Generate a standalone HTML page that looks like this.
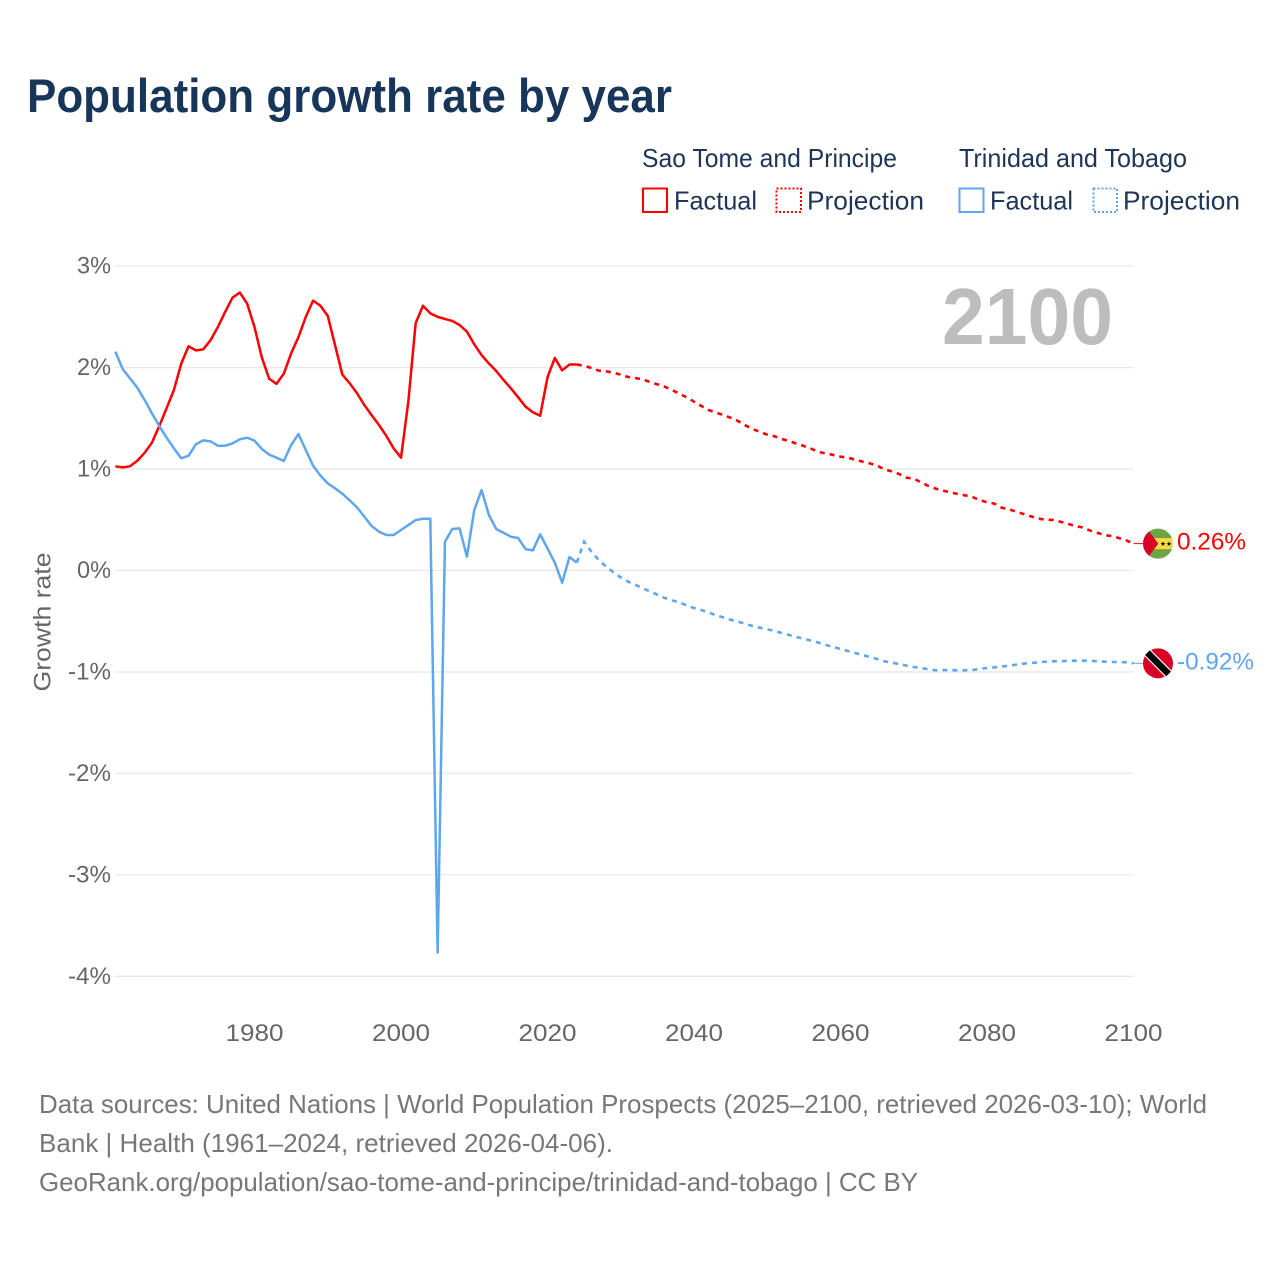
<!DOCTYPE html>
<html lang="en">
<head>
<meta charset="utf-8">
<title>Population growth rate by year</title>
<style>
  html, body { margin: 0; padding: 0; background: #fff; }
  #chart { display: block; width: 1280px; height: 1280px; font-family: "Liberation Sans", sans-serif; }
</style>
</head>
<body>
<svg id="chart" xmlns="http://www.w3.org/2000/svg" width="1280" height="1280" viewBox="0 0 1280 1280">
  <rect x="0" y="0" width="1280" height="1280" fill="#fff"/>
  <text x="27" y="112" font-size="47" font-weight="700" fill="#18365a" textLength="645" lengthAdjust="spacingAndGlyphs">Population growth rate by year</text>

  <g font-size="26" fill="#1d3557">
    <text x="642" y="167" textLength="255" lengthAdjust="spacingAndGlyphs">Sao Tome and Principe</text>
    <text x="959" y="167" textLength="228" lengthAdjust="spacingAndGlyphs">Trinidad and Tobago</text>
    <g>
      <rect x="643" y="188.5" width="24" height="23.5" fill="none" stroke="#ff0000" stroke-width="2"/>
      <text x="674" y="209.5" textLength="83" lengthAdjust="spacingAndGlyphs">Factual</text>
    </g>
    <g>
      <rect x="776.5" y="188.5" width="24.5" height="23.5" fill="none" stroke="#ff0000" stroke-width="2" stroke-dasharray="2 2"/>
      <text x="807" y="209.5" textLength="117" lengthAdjust="spacingAndGlyphs">Projection</text>
    </g>
    <g>
      <rect x="959.5" y="188.5" width="24" height="23.5" fill="none" stroke="#5ea6ee" stroke-width="2"/>
      <text x="990" y="209.5" textLength="83" lengthAdjust="spacingAndGlyphs">Factual</text>
    </g>
    <g>
      <rect x="1093.5" y="188.5" width="23.5" height="23.5" fill="none" stroke="#5ea6ee" stroke-width="2" stroke-dasharray="2 2"/>
      <text x="1123" y="209.5" textLength="117" lengthAdjust="spacingAndGlyphs">Projection</text>
    </g>
  </g>

  <g id="grid"></g>
  <g id="y-ticks"></g>
  <g id="x-ticks"></g>
  <text transform="translate(50.5,622) rotate(-90)" text-anchor="middle" font-size="24.5" fill="#666" textLength="139" lengthAdjust="spacingAndGlyphs">Growth rate</text>
  <text x="942" y="344" font-size="80" font-weight="700" fill="#bdbdbd" textLength="171" lengthAdjust="spacingAndGlyphs">2100</text>

  <g id="series"></g>
  <g id="endpoints"></g>

  <g font-size="26" fill="#777">
    <text x="39" y="1113" textLength="1168" lengthAdjust="spacingAndGlyphs">Data sources: United Nations | World Population Prospects (2025–2100, retrieved 2026-03-10); World</text>
    <text x="39" y="1152" textLength="574" lengthAdjust="spacingAndGlyphs">Bank | Health (1961–2024, retrieved 2026-04-06).</text>
    <text x="39" y="1191" textLength="879" lengthAdjust="spacingAndGlyphs">GeoRank.org/population/sao-tome-and-principe/trinidad-and-tobago | CC BY</text>
  </g>
</svg>

<script>
const yTickValues = [3, 2, 1, 0, -1, -2, -3, -4];
const yTickLabels = ['3%', '2%', '1%', '0%', '-1%', '-2%', '-3%', '-4%'];
const xTickYears = [1980, 2000, 2020, 2040, 2060, 2080, 2100];
const xTickLabels = ['1980', '2000', '2020', '2040', '2060', '2080', '2100'];

const factualYears = [1961,1962,1963,1964,1965,1966,1967,1968,1969,1970,1971,1972,1973,1974,1975,1976,1977,1978,1979,1980,1981,1982,1983,1984,1985,1986,1987,1988,1989,1990,1991,1992,1993,1994,1995,1996,1997,1998,1999,2000,2001,2002,2003,2004,2005,2006,2007,2008,2009,2010,2011,2012,2013,2014,2015,2016,2017,2018,2019,2020,2021,2022,2023,2024];
const projectionYears = [2024,2025,2026,2027,2028,2029,2030,2031,2032,2033,2034,2035,2036,2037,2038,2039,2040,2041,2042,2043,2044,2045,2046,2047,2048,2049,2050,2051,2052,2053,2054,2055,2056,2057,2058,2059,2060,2061,2062,2063,2064,2065,2066,2067,2068,2069,2070,2071,2072,2073,2074,2075,2076,2077,2078,2079,2080,2081,2082,2083,2084,2085,2086,2087,2088,2089,2090,2091,2092,2093,2094,2095,2096,2097,2098,2099,2100];

const saoTomeFactual = [1.027,1.017,1.027,1.082,1.16,1.26,1.424,1.6,1.78,2.04,2.21,2.17,2.18,2.27,2.40,2.55,2.69,2.74,2.63,2.40,2.10,1.89,1.84,1.94,2.14,2.30,2.50,2.66,2.61,2.51,2.22,1.93,1.845,1.747,1.63,1.53,1.434,1.326,1.204,1.112,1.664,2.437,2.61,2.535,2.50,2.48,2.46,2.42,2.354,2.23,2.124,2.04,1.966,1.878,1.796,1.707,1.615,1.56,1.526,1.904,2.095,1.973,2.03,2.03];
const saoTomeProjection = [2.03,2.019,1.996,1.970,1.963,1.950,1.930,1.907,1.897,1.884,1.858,1.835,1.812,1.779,1.743,1.707,1.664,1.622,1.582,1.556,1.533,1.506,1.474,1.431,1.395,1.365,1.339,1.323,1.296,1.277,1.250,1.227,1.201,1.168,1.155,1.139,1.122,1.112,1.093,1.073,1.056,1.033,0.997,0.977,0.951,0.915,0.905,0.869,0.833,0.807,0.787,0.771,0.754,0.741,0.724,0.695,0.672,0.659,0.619,0.603,0.580,0.557,0.534,0.511,0.501,0.498,0.481,0.462,0.439,0.425,0.396,0.373,0.350,0.340,0.320,0.297,0.265];
const trinidadFactual = [2.157,1.986,1.894,1.802,1.681,1.549,1.424,1.309,1.204,1.106,1.132,1.244,1.283,1.273,1.230,1.230,1.253,1.293,1.309,1.280,1.198,1.142,1.112,1.079,1.237,1.345,1.188,1.033,0.935,0.859,0.810,0.757,0.691,0.622,0.530,0.438,0.382,0.350,0.350,0.399,0.448,0.497,0.510,0.510,-3.767,0.284,0.409,0.415,0.136,0.596,0.793,0.547,0.409,0.372,0.333,0.320,0.211,0.198,0.356,0.218,0.077,-0.120,0.133,0.077];
const trinidadProjection = [0.077,0.284,0.185,0.103,0.038,-0.018,-0.068,-0.110,-0.140,-0.176,-0.206,-0.238,-0.271,-0.294,-0.314,-0.344,-0.370,-0.390,-0.413,-0.442,-0.462,-0.485,-0.505,-0.524,-0.547,-0.564,-0.580,-0.596,-0.616,-0.636,-0.656,-0.672,-0.692,-0.711,-0.734,-0.754,-0.774,-0.794,-0.813,-0.833,-0.853,-0.872,-0.895,-0.909,-0.922,-0.938,-0.951,-0.961,-0.974,-0.984,-0.981,-0.981,-0.984,-0.984,-0.981,-0.971,-0.961,-0.955,-0.948,-0.938,-0.928,-0.918,-0.912,-0.905,-0.899,-0.895,-0.895,-0.889,-0.889,-0.889,-0.889,-0.895,-0.899,-0.902,-0.902,-0.905,-0.915];

const saoTomeEndLabel = '0.26%';
const trinidadEndLabel = '-0.92%';

const SVG_NS = 'http://www.w3.org/2000/svg';
const RED = '#ff0000';
const BLUE = '#5ea6ee';
const xScale = function (year) { return 108 + (year - 1960) * 7.325; };
const yScale = function (value) { return 570.5 - value * 101.45; };

function make(tag, attrs, parent) {
  const el = document.createElementNS(SVG_NS, tag);
  Object.keys(attrs).forEach(function (k) { el.setAttribute(k, attrs[k]); });
  parent.appendChild(el);
  return el;
}
function pathFrom(years, values) {
  return years.map(function (yr, i) {
    return (i ? 'L' : 'M') + xScale(yr).toFixed(2) + ' ' + yScale(values[i]).toFixed(2);
  }).join(' ');
}

const gridGroup = document.getElementById('grid');
const yTickGroup = document.getElementById('y-ticks');
const xTickGroup = document.getElementById('x-ticks');
const seriesGroup = document.getElementById('series');
const endGroup = document.getElementById('endpoints');

yTickValues.forEach(function (v, i) {
  const y = yScale(v);
  const line = make('line', { x1: 115, x2: xScale(2100), y1: y, y2: y, stroke: '#e8e8e8', 'stroke-width': 1.3 }, gridGroup);
  
  
  const t = make('text', { x: 111, y: y + 7.5, 'text-anchor': 'end', 'font-size': 24, fill: '#666', textLength: yTickLabels[i].length === 2 ? 34 : 43, lengthAdjust: 'spacingAndGlyphs' }, yTickGroup);
  
  
  t.textContent = yTickLabels[i];
});

xTickYears.forEach(function (yr, i) {
  const t = make('text', { x: xScale(yr), y: 1041, 'text-anchor': 'middle', 'font-size': 24.5, fill: '#666', textLength: 58, lengthAdjust: 'spacingAndGlyphs' }, xTickGroup);
  
  
  t.textContent = xTickLabels[i];
});

const redFactual = make('path', { d: pathFrom(factualYears, saoTomeFactual), fill: 'none', stroke: RED, 'stroke-width': 2.5, 'stroke-linejoin': 'round' }, seriesGroup);



const redProjection = make('path', { d: pathFrom(projectionYears, saoTomeProjection), fill: 'none', stroke: RED, 'stroke-width': 2.6, 'stroke-dasharray': '5 5' }, seriesGroup);



const blueFactual = make('path', { d: pathFrom(factualYears, trinidadFactual), fill: 'none', stroke: BLUE, 'stroke-width': 2.5, 'stroke-linejoin': 'round' }, seriesGroup);



const blueProjection = make('path', { d: pathFrom(projectionYears, trinidadProjection), fill: 'none', stroke: BLUE, 'stroke-width': 2.6, 'stroke-dasharray': '5 5' }, seriesGroup);



/* Endpoint for Sao Tome and Principe */
const redEndY = yScale(saoTomeProjection[saoTomeProjection.length - 1]);
const redEndX = xScale(projectionYears[projectionYears.length - 1]);
const redConnector = make('line', { x1: redEndX, x2: 1144, y1: redEndY, y2: redEndY, stroke: RED, 'stroke-width': 1 }, endGroup);



const redFlag = make('g', { transform: 'translate(1158,' + redEndY + ')' }, endGroup);


make('circle', { r: 15, fill: '#6da544' }, redFlag);
make('path', { d: 'M-13.9 -5.5 H13.9 A15 15 0 0 1 13.9 5.5 H-13.9 Z', fill: '#ffda44' }, redFlag);
make('path', { d: 'M-8.8 -12.1 L0.3 0 L-8.8 12.1 A15 15 0 0 1 -8.8 -12.1 Z', fill: '#d80027' }, redFlag);
make('polygon', { points: '5,-2.2 5.7,-0.5 7.4,-0.5 6,0.6 6.6,2.3 5,1.2 3.4,2.3 4,0.6 2.6,-0.5 4.3,-0.5', fill: '#000' }, redFlag);
make('polygon', { points: '11,-2.2 11.7,-0.5 13.4,-0.5 12,0.6 12.6,2.3 11,1.2 9.4,2.3 10,0.6 8.6,-0.5 10.3,-0.5', fill: '#000' }, redFlag);

const redLabel = make('text', { x: 1177, y: redEndY + 6, 'font-size': 24.5, fill: RED, textLength: 69, lengthAdjust: 'spacingAndGlyphs' }, endGroup);


redLabel.textContent = saoTomeEndLabel;

/* Endpoint for Trinidad and Tobago */
const blueEndY = yScale(trinidadProjection[trinidadProjection.length - 1]);
const blueEndX = xScale(projectionYears[projectionYears.length - 1]);
const blueConnector = make('line', { x1: blueEndX, x2: 1144, y1: blueEndY, y2: blueEndY, stroke: BLUE, 'stroke-width': 1 }, endGroup);



const blueFlag = make('g', { transform: 'translate(1158,' + blueEndY + ')' }, endGroup);


make('circle', { r: 15, fill: '#d80027' }, blueFlag);
make('line', { x1: -10.6, y1: -10.6, x2: 10.6, y2: 10.6, stroke: '#f0f0f0', 'stroke-width': 9 }, blueFlag);
make('line', { x1: -10.6, y1: -10.6, x2: 10.6, y2: 10.6, stroke: '#000', 'stroke-width': 6.5 }, blueFlag);

const blueLabel = make('text', { x: 1177, y: blueEndY + 6, 'font-size': 24.5, fill: BLUE, textLength: 77, lengthAdjust: 'spacingAndGlyphs' }, endGroup);


blueLabel.textContent = trinidadEndLabel;
</script>
</body>
</html>
